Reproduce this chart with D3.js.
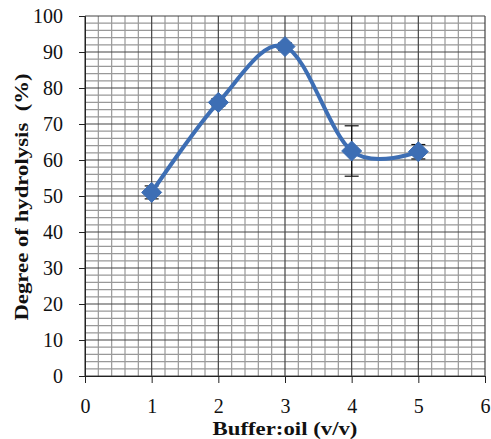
<!DOCTYPE html>
<html>
<head>
<meta charset="utf-8">
<script src="https://cdn.jsdelivr.net/npm/d3@7"></script>
<style>
  body { margin: 0; background: #fff; }
  svg { display: block; font-family: "Liberation Serif", "Times New Roman", serif; }
</style>
</head>
<body>
<div id="chart"></div>
<script>
// Data
const ratios = [1, 2, 3, 4, 5];
const hydrolysis = [51, 76, 91.5, 62.5, 62.3];
const errors = [1.8, 1, 1, 7, 2];
const xTicks = [0, 1, 2, 3, 4, 5, 6];
const yTicks = [0, 10, 20, 30, 40, 50, 60, 70, 80, 90, 100];

const W = 491, H = 439;
const margin = { top: 16, right: 6, bottom: 63, left: 85 };
const width = W - margin.left - margin.right;
const height = H - margin.top - margin.bottom;

const svg = d3.select("#chart").append("svg")
  .attr("width", W)
  .attr("height", H);

const g = svg.append("g")
  .attr("transform", `translate(${margin.left},${margin.top})`);

const x = d3.scaleLinear().domain([0, 6]).range([0, width]);
const y = d3.scaleLinear().domain([0, 100]).range([height, 0]);

// minor grid
const minorX = d3.range(0, 6.001, 0.2).filter(v => Math.abs(v - Math.round(v)) > 1e-6);
const minorY = d3.range(0, 100.001, 2).filter(v => v % 10 !== 0);

g.append("g").selectAll("line")
  .data(minorX).join("line")
  .attr("x1", d => x(d)).attr("x2", d => x(d))
  .attr("y1", 0).attr("y2", height)
  .attr("stroke", "#999").attr("stroke-width", 1.2);

g.append("g").selectAll("line")
  .data(minorY).join("line")
  .attr("x1", 0).attr("x2", width)
  .attr("y1", d => y(d)).attr("y2", d => y(d))
  .attr("stroke", "#999").attr("stroke-width", 1.2);

// major grid
g.append("g").selectAll("line")
  .data(xTicks).join("line")
  .attr("x1", d => x(d)).attr("x2", d => x(d))
  .attr("y1", 0).attr("y2", height)
  .attr("stroke", "#444").attr("stroke-width", 1.2);

g.append("g").selectAll("line")
  .data(yTicks).join("line")
  .attr("x1", 0).attr("x2", width)
  .attr("y1", d => y(d)).attr("y2", d => y(d))
  .attr("stroke", "#444").attr("stroke-width", 1.2);

// axes
const xAxis = d3.axisBottom(x).tickValues(xTicks).tickSize(7).tickPadding(16).tickFormat(d3.format("d"));
const yAxis = d3.axisLeft(y).tickValues(yTicks).tickSize(6).tickPadding(16);

const xg = g.append("g").attr("transform", `translate(0,${height})`).call(xAxis);
const yg = g.append("g").call(yAxis);
[xg, yg].forEach(a => {
  a.select(".domain").attr("stroke", "#222");
  a.selectAll(".tick line").attr("stroke", "#222");
  a.selectAll(".tick text")
    .attr("font-family", "Liberation Serif, serif")
    .attr("font-size", 20)
    .attr("fill", "#111");
});

// error bars
const pts = ratios.map((r, i) => ({ x: r, y: hydrolysis[i], e: errors[i] }));
const eb = g.append("g").attr("stroke", "#111").attr("stroke-width", 1.2);
eb.selectAll("line.v").data(pts).join("line")
  .attr("class", "v")
  .attr("x1", d => x(d.x)).attr("x2", d => x(d.x))
  .attr("y1", d => y(d.y + d.e)).attr("y2", d => y(d.y - d.e));
eb.selectAll("line.top").data(pts).join("line")
  .attr("class", "top")
  .attr("x1", d => x(d.x) - 7).attr("x2", d => x(d.x) + 7)
  .attr("y1", d => y(d.y + d.e)).attr("y2", d => y(d.y + d.e));
eb.selectAll("line.bot").data(pts).join("line")
  .attr("class", "bot")
  .attr("x1", d => x(d.x) - 7).attr("x2", d => x(d.x) + 7)
  .attr("y1", d => y(d.y - d.e)).attr("y2", d => y(d.y - d.e));

// smoothed line
const blue = "#3d6eb4";
const line = d3.line()
  .x(d => x(d.x)).y(d => y(d.y))
  .curve(d3.curveCardinal.tension(0));

g.append("path")
  .datum(pts)
  .attr("d", line)
  .attr("fill", "none")
  .attr("stroke", blue)
  .attr("stroke-width", 4)
  .attr("stroke-linecap", "round");

// diamond markers
g.append("g").selectAll("path")
  .data(pts).join("path")
  .attr("transform", d => `translate(${x(d.x)},${y(d.y)})`)
  .attr("d", "M0,-10L10,0L0,10L-10,0Z")
  .attr("fill", blue)
  .attr("stroke", blue)
  .attr("stroke-width", 1);

// axis titles (the original type is a little wider than Liberation Serif)
svg.append("text")
  .attr("transform", `translate(${margin.left + x(3)},435) scale(1.2,1)`)
  .attr("text-anchor", "middle")
  .attr("font-size", 19)
  .attr("font-weight", "bold")
  .attr("fill", "#111")
  .text("Buffer:oil (v/v)");

svg.append("text")
  .attr("transform", `translate(28,${margin.top + y(50) + 1}) rotate(-90) scale(1.2,1)`)
  .attr("text-anchor", "middle")
  .attr("font-size", 19)
  .attr("font-weight", "bold")
  .attr("fill", "#111")
  .attr("xml:space", "preserve")
  .text("Degree of hydrolysis  (%)");
</script>
</body>
</html>
